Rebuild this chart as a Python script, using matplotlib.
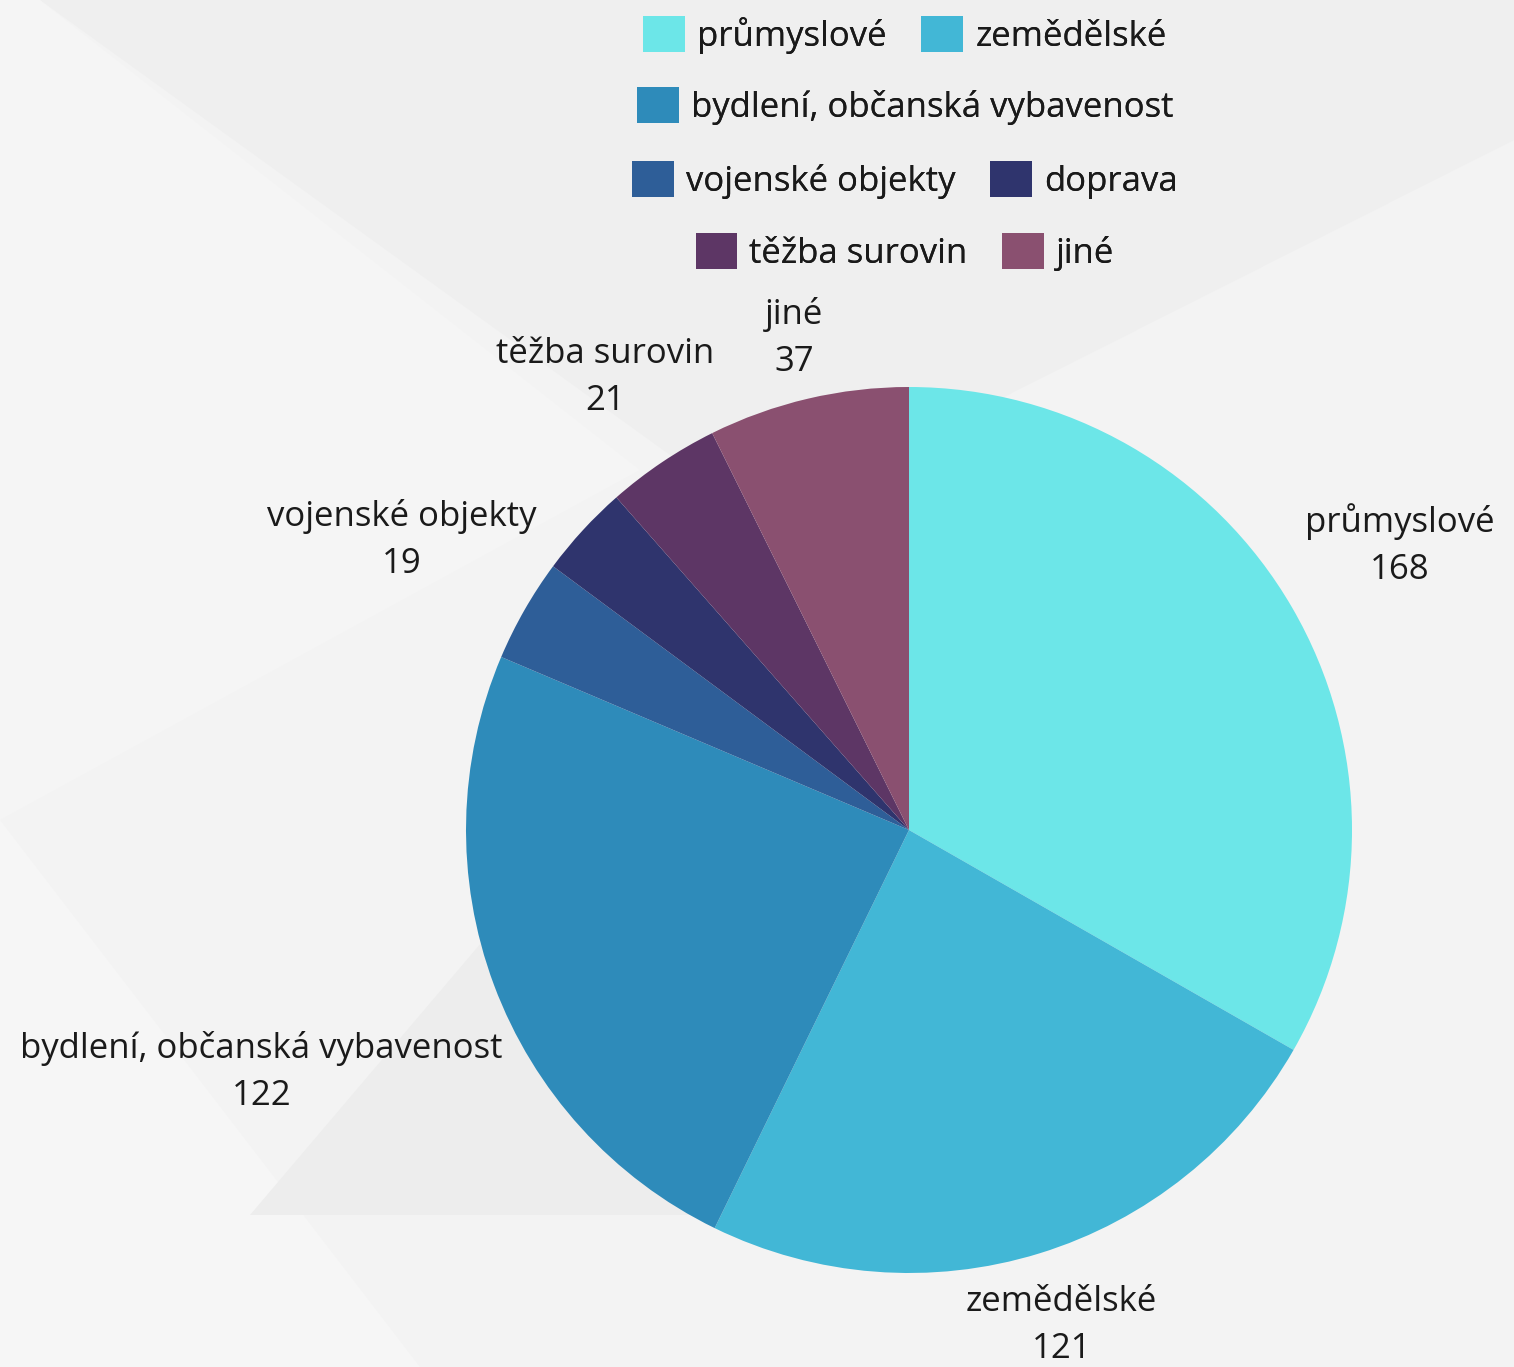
import matplotlib
matplotlib.use("Agg")
import matplotlib.pyplot as plt
from matplotlib.patches import Patch, Polygon
import numpy as np

categories = ["průmyslové", "zemědělské", "bydlení, občanská vybavenost",
              "vojenské objekty", "doprava", "těžba surovin", "jiné"]
values = [168, 121, 122, 19, 17, 21, 37]
show_label = [True, True, True, True, False, True, True]
colors = ["#6ce6e8", "#42b7d6", "#2e8bba", "#2e5e98", "#2f346d", "#5d3665", "#8a5070"]
label_dist = [1.28, 1.17, 1.56, 1.32, 1.2, 1.23, 1.14]
legend_rows = [[0, 1], [2], [3, 4], [5, 6]]

plt.rcParams['font.family'] = ['Open Sans', 'DejaVu Sans']
W, H, DPI = 1514, 1367, 100
FS = 25
fig = plt.figure(figsize=(W / DPI, H / DPI), dpi=DPI)
fig.patch.set_facecolor("#f3f3f3")

# subtle background geometry
bg = fig.add_axes([0, 0, 1, 1], zorder=-10)
bg.set_xlim(0, W); bg.set_ylim(H, 0); bg.axis("off")
shapes = [
    ([(40, 0), (1514, 0), (1514, 140), (760, 520)], "#efefef"),
    ([(0, 0), (40, 0), (640, 470), (0, 820)], "#f5f5f5"),
    ([(0, 820), (420, 1367), (0, 1367)], "#f6f6f6"),
    ([(250, 1215), (900, 1215), (900, 850), (560, 850)], "#ededed"),
]
for pts, c in shapes:
    bg.add_patch(Polygon(pts, closed=True, facecolor=c, edgecolor="none"))

cx, cy, r = 909, 830, 443
ax = fig.add_axes([(cx - r) / W, (H - cy - r) / H, 2 * r / W, 2 * r / H])
wedges, _ = ax.pie(values, colors=colors, startangle=90, counterclock=False,
                   radius=1.0, wedgeprops=dict(linewidth=0))
ax.set_xlim(-1, 1); ax.set_ylim(-1, 1)
ax.set_aspect("equal")
ax.axis("off")

for w, name, val, show, d in zip(wedges, categories, values, show_label, label_dist):
    if not show:
        continue
    mid = np.deg2rad((w.theta1 + w.theta2) / 2)
    x, y = d * np.cos(mid), d * np.sin(mid)
    ax.text(x, y, f"{name}\n{val}", ha="center", va="center", fontsize=FS,
            color="#1a1a1a", linespacing=1.5, clip_on=False)

row_y = [35, 106, 180, 252]
for row, yy in zip(legend_rows, row_y):
    handles = [Patch(facecolor=colors[i], edgecolor="none") for i in row]
    labels = [categories[i] for i in row]
    leg = fig.legend(handles, labels, loc="center", bbox_to_anchor=(905 / W, 1 - yy / H),
                     ncol=len(row), frameon=False, fontsize=FS, handlelength=1.2,
                     handleheight=1.2, handletextpad=0.35, columnspacing=1.0,
                     borderpad=0, labelcolor="#1a1a1a")
    fig.add_artist(leg)

fig.savefig("out.png", dpi=DPI, facecolor=fig.get_facecolor())
